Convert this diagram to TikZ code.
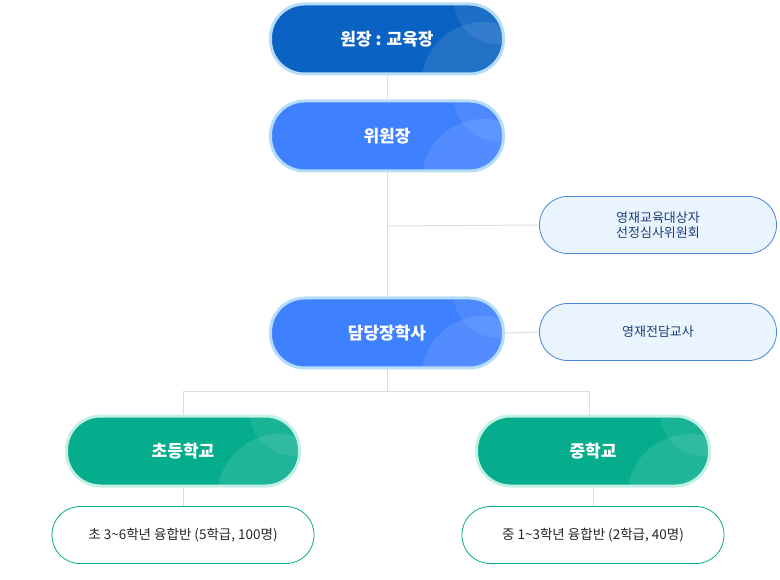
\documentclass[tikz,border=0pt]{standalone}
\usepackage{fontspec}
\newfontfamily\kr{Noto Sans CJK KR}
\definecolor{dkblue}{HTML}{0A62C2}
\definecolor{mdblue}{HTML}{3F80FE}
\definecolor{grn}{HTML}{06AD8D}
\definecolor{bordb}{HTML}{B5DDF8}
\definecolor{bordg}{HTML}{C5F0E6}
\definecolor{lfill}{HTML}{E9F4FE}
\definecolor{lbord}{HTML}{4A86D8}
\definecolor{ltext}{HTML}{1A3C7A}
\definecolor{lnc}{HTML}{DDDDDD}
\tikzset{
 pill/.style={rounded corners=34pt, minimum width=233pt, minimum height=70pt, line width=3pt, text=white, font=\kr\bfseries\fontsize{17}{20}\selectfont,
   path picture={\fill[white,opacity=0.10] ([xshift=-20pt,yshift=-10pt]path picture bounding box.south east) circle (62pt);
                 \fill[white,opacity=0.08] ([xshift=-5pt,yshift=5pt]path picture bounding box.north east) circle (45pt);}},
 bpill/.style={pill, fill=dkblue, draw=bordb},
 mpill/.style={pill, fill=mdblue, draw=bordb},
 gpill/.style={pill, fill=grn, draw=bordg},
 lbox/.style={rounded corners=28pt, minimum width=237pt, minimum height=57pt, fill=lfill, draw=lbord, line width=0.8pt, text=ltext, align=center, font=\kr\fontsize{13}{17}\selectfont},
 wbox/.style={rounded corners=28pt, minimum width=262pt, minimum height=57pt, fill=white, draw=grn, line width=0.8pt, text=black!85, font=\kr\fontsize{13.5}{17}\selectfont},
 ln/.style={draw=lnc, line width=1pt}
}
\begin{document}
\begin{tikzpicture}[x=1pt,y=-1pt]
\useasboundingbox (0,0) rectangle (780,580);
\coordinate (t1) at (387,226);
\coordinate (t2) at (387,392);
\coordinate (l2) at (183,392);
\coordinate (r2) at (589,392);
\node[bpill] (a) at (387,39) {원장 : 교육장};
\node[mpill] (b) at (387,136) {위원장};
\node[mpill] (c) at (387,333) {담당장학사};
\node[lbox] (d) at (658,225) {영재교육대상자\\[-2pt]선정심사위원회};
\node[lbox] (e) at (658,332) {영재전담교사};
\node[gpill] (f) at (183,451) {초등학교};
\node[gpill] (g) at (593,451) {중학교};
\node[wbox] (h) at (183,535) {초 3\textasciitilde6학년 융합반 (5학급, 100명)};
\node[wbox] (i) at (593,535) {중 1\textasciitilde3학년 융합반 (2학급, 40명)};
\begin{scope}[on background layer/.style={}]
\draw[ln] (a.south) -- (b.north);
\draw[ln] (b.south) -- (c.north);
\draw[ln] (t1) -- (d.west);
\draw[ln] (c.east) -- (e.west);
\draw[ln] (c.south) -- (t2) -- (l2) -- (f.north);
\draw[ln] (t2) -- (r2) -- (r2|-g.north);
\draw[ln] (f.south) -- (h.north);
\draw[ln] (g.south) -- (i.north);
\end{scope}
\end{tikzpicture}
\end{document}
